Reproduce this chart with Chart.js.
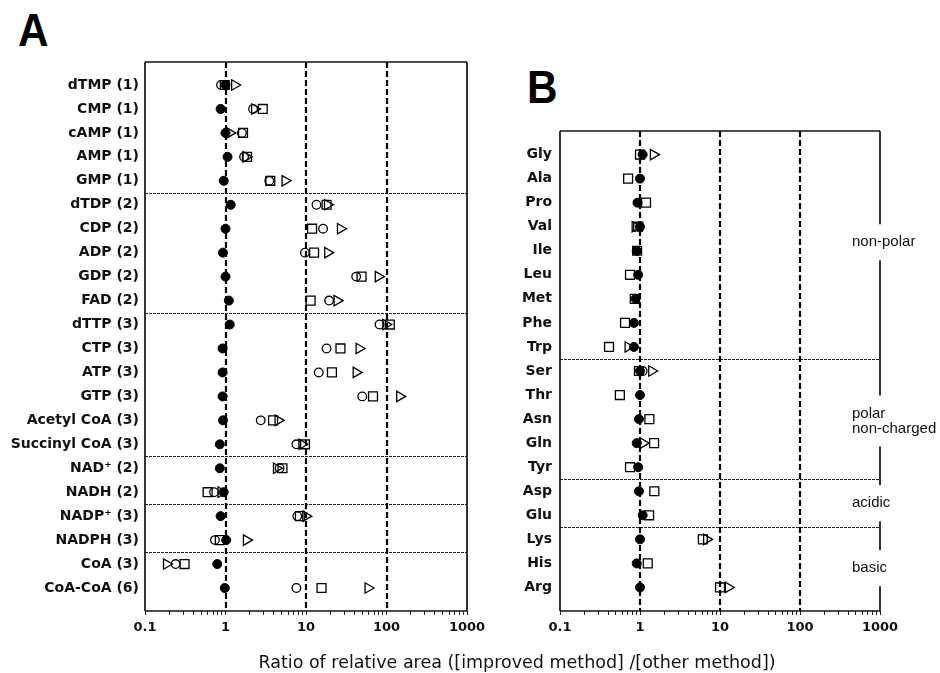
<!DOCTYPE html>
<html>
<head>
<meta charset="utf-8">
<script src="https://cdn.jsdelivr.net/npm/chart.js@4.4.1/dist/chart.umd.min.js"></script>
<style>
body { margin: 0; background: #fff; width: 940px; height: 673px; position: relative; overflow: hidden; }
canvas { position: absolute; top: 0; }
#chartA { left: 0; }
#chartB { left: 480px; }
.panel { position: absolute; font: bold 46px "Liberation Sans", Arial, sans-serif; line-height: 46px; color: #000; transform: scaleX(0.92); transform-origin: left top; }
#title { position: absolute; left: 217px; width: 600px; top: 652px; line-height: 20px; text-align: center; font: 17.5px "DejaVu Sans", sans-serif; color: #111; }
</style>
</head>
<body>
<div class="panel" style="left:18px;top:7px">A</div>
<div class="panel" style="left:527px;top:64px">B</div>
<canvas id="chartA" width="500" height="673"></canvas>
<canvas id="chartB" width="460" height="673"></canvas>
<div id="title">Ratio of relative area ([improved method] /[other method])</div>
<script>
// panel A : nucleotides / cofactors
const labelsA = ["dTMP (1)", "CMP (1)", "cAMP (1)", "AMP (1)", "GMP (1)",
  "dTDP (2)", "CDP (2)", "ADP (2)", "GDP (2)", "FAD (2)",
  "dTTP (3)", "CTP (3)", "ATP (3)", "GTP (3)", "Acetyl CoA (3)", "Succinyl CoA (3)",
  "NAD\u207A (2)", "NADH (2)", "NADP\u207A (3)", "NADPH (3)", "CoA (3)", "CoA-CoA (6)"]
const filledA = [1.0, 0.87, 1.0, 1.06, 0.95, 1.16, 1.0, 0.93, 1.0, 1.1, 1.13, 0.92, 0.92, 0.92, 0.93, 0.85, 0.85, 0.95, 0.87, 1.02, 0.79, 0.98]
const circleA = [0.88, 2.2, 1.6, 1.7, 3.5, 13.5, 16.3, 9.7, 42, 19.4, 82, 18, 14.4, 50, 2.74, 7.6, 4.7, 0.72, 7.8, 0.74, 0.24, 7.6]
const squareA = [0.98, 2.9, 1.65, 1.85, 3.6, 18, 11.9, 12.6, 49, 11.4, 110, 26.8, 21, 68, 3.9, 9.7, 5.1, 0.6, 8.4, 0.85, 0.31, 15.6]
const triangleA = [1.3, 2.3, 1.13, 1.8, 5.5, 18.5, 26.8, 18.6, 79, 24.3, 98, 45.7, 42, 146, 4.5, 8.9, 4.3, 0.88, 9.95, 1.82, 0.185, 59]
const separatorsA = [4, 9, 15, 17, 19]

// panel B : amino acids
const labelsB = ["Gly", "Ala", "Pro", "Val", "Ile", "Leu", "Met", "Phe", "Trp",
  "Ser", "Thr", "Asn", "Gln", "Tyr", "Asp", "Glu", "Lys", "His", "Arg"]
const filledB = [1.08, 1.0, 0.93, 1.0, 0.91, 0.95, 0.88, 0.84, 0.84, 1.0, 1.0, 0.97, 0.91, 0.95, 0.97, 1.08, 1.0, 0.91, 1.0]
const circleB = [null, null, null, null, null, null, null, null, null, 1.08, null, null, null, null, null, null, null, null, null]
const squareB = [1.0, 0.71, 1.19, 0.95, 0.92, 0.75, 0.86, 0.65, 0.41, 0.97, 0.56, 1.31, 1.5, 0.75, 1.51, 1.3, 6.1, 1.25, 10]
const triangleB = [1.47, null, null, 0.87, null, null, null, null, 0.71, 1.4, null, null, 1.1, null, null, null, 6.8, null, 12.7]
const separatorsB = [8, 13, 15]
const groupNamesB = [["non-polar"], ["polar", "non-charged"], ["acidic"], ["basic"]]
const groupPosB = [3.65, 11.08, 14.5, 17.2]

const refLines = [1, 10, 100]
const majorTicks = [0.1, 1, 10, 100, 1000]

function toPoints(values) {
  const pts = []
  values.forEach((v, i) => { if (v !== null) pts.push({ x: v, y: i }) })
  return pts
}

function line(ctx, x1, y1, x2, y2) {
  ctx.beginPath()
  ctx.moveTo(x1, y1)
  ctx.lineTo(x2, y2)
  ctx.stroke()
}

const decor = {
  id: "decor",
  beforeDatasetsDraw(chart, args, o) {
    const ctx = chart.ctx
    const a = chart.chartArea
    const x = chart.scales.x, y = chart.scales.y
    ctx.save()
    ctx.strokeStyle = "#222"
    ctx.lineWidth = 1
    ctx.setLineDash([3, 1])
    o.separators.forEach(i => {
      const py = Math.round(y.getPixelForValue(i + 0.5)) + 0.5
      line(ctx, a.left, py, a.right, py)
    })
    ctx.strokeStyle = "#000"
    ctx.lineWidth = 2.2
    ctx.setLineDash([6, 3])
    refLines.forEach(v => {
      const px = Math.round(x.getPixelForValue(v))
      line(ctx, px, a.top, px, a.bottom)
    })
    ctx.restore()
  },
  afterDatasetsDraw(chart, args, o) {
    const ctx = chart.ctx
    const a = chart.chartArea
    const y = chart.scales.y
    ctx.save()
    ctx.strokeStyle = "#111"
    ctx.lineWidth = 1.7
    line(ctx, a.left, a.top, a.right, a.top)
    line(ctx, a.left, a.top, a.left, a.bottom)
    line(ctx, a.left, a.bottom, a.right, a.bottom)
    if (!o.groups) {
      line(ctx, a.right, a.top, a.right, a.bottom)
    } else {
      // right border works as a bracket, broken where group names sit
      let from = a.top
      ctx.font = "15px 'Liberation Sans', Arial, sans-serif"
      ctx.fillStyle = "#111"
      ctx.textBaseline = "middle"
      o.groups.forEach((names, g) => {
        const cy = y.getPixelForValue(o.groupPos[g])
        const first = cy - (names.length - 1) * 7.5
        const last = cy + (names.length - 1) * 7.5
        line(ctx, a.right, from, a.right, first - 18)
        names.forEach((n, k) => ctx.fillText(n, a.right - 28, first + k * 15))
        from = last + 18
      })
      line(ctx, a.right, from, a.right, a.bottom)
    }
    ctx.restore()
  }
}

function makeChart(id, labels, filled, circle, square, triangle, opts) {
  const ctx = document.getElementById(id).getContext("2d")
  const open = "rgba(0,0,0,0)"
  return new Chart(ctx, {
    type: "scatter",
    data: {
      datasets: [
        { label: "filled", data: toPoints(filled), pointStyle: "circle", pointRadius: 4.5, backgroundColor: "#000", borderColor: "#000", borderWidth: 1 },
        { label: "circle", data: toPoints(circle), pointStyle: "circle", pointRadius: 4.3, backgroundColor: open, borderColor: "#000", borderWidth: 1.3 },
        { label: "square", data: toPoints(square), pointStyle: "rect", pointRadius: 6.3, backgroundColor: open, borderColor: "#000", borderWidth: 1.3 },
        { label: "triangle", data: toPoints(triangle), pointStyle: "triangle", rotation: 90, pointRadius: 6, backgroundColor: open, borderColor: "#000", borderWidth: 1.3 }
      ]
    },
    options: {
      responsive: false,
      animation: false,
      layout: { padding: opts.padding },
      plugins: {
        legend: { display: false },
        tooltip: { enabled: false },
        decor: { separators: opts.separators, groups: opts.groups, groupPos: opts.groupPos }
      },
      scales: {
        x: {
          type: "logarithmic",
          min: 0.1,
          max: 1000,
          afterBuildTicks: s => {
            const t = []
            for (let d = 0.1; d < 1000; d *= 10) {
              for (let k = 1; k < 10; k++) t.push({ value: +(d * k).toPrecision(3) })
            }
            t.push({ value: 1000 })
            s.ticks = t
          },
          afterFit: s => { s.height = 30 },
          grid: { drawOnChartArea: false, drawTicks: true, tickLength: 4, color: "#222", tickWidth: 1 },
          border: { display: false },
          ticks: {
            autoSkip: false,
            maxRotation: 0,
            padding: 5,
            color: "#111",
            font: { family: "'DejaVu Sans', sans-serif", size: 13, weight: "bold" },
            callback: v => majorTicks.some(m => Math.abs(m - v) < 1e-9) ? String(v) : ""
          }
        },
        y: {
          type: "linear",
          reverse: true,
          min: -opts.edge,
          max: labels.length - 1 + opts.edge,
          afterBuildTicks: s => { s.ticks = labels.map((l, i) => ({ value: i })) },
          afterFit: s => { s.width = opts.yWidth },
          grid: { display: false, drawTicks: false },
          border: { display: false },
          ticks: {
            autoSkip: false,
            padding: opts.yPad,
            color: "#111",
            font: { family: "'DejaVu Sans', sans-serif", size: 14, weight: "bold" },
            callback: v => labels[v]
          }
        }
      }
    },
    plugins: [decor]
  })
}

makeChart("chartA", labelsA, filledA, circleA, squareA, triangleA, {
  padding: { left: 0, right: 33, top: 62, bottom: 32 },
  yWidth: 145, yPad: 6, edge: 0.96, separators: separatorsA
})

makeChart("chartB", labelsB, filledB, circleB, squareB, triangleB, {
  padding: { left: 0, right: 60, top: 131, bottom: 32 },
  yWidth: 80, yPad: 8, edge: 0.98, separators: separatorsB,
  groups: groupNamesB, groupPos: groupPosB
})
</script>
</body>
</html>
